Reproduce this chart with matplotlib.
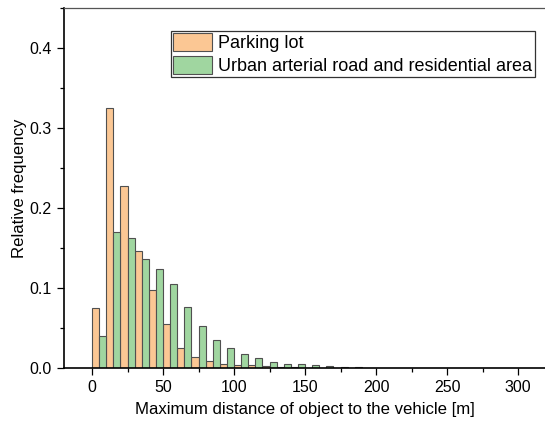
import numpy as np
import matplotlib
matplotlib.use('Agg')
import matplotlib.pyplot as plt
from matplotlib.ticker import MultipleLocator

plt.rcParams['font.family'] = ['Liberation Sans', 'DejaVu Sans']

# left edge of each 10 m bin
bin_start = np.arange(0, 310, 10)

parking = [0.076, 0.326, 0.228, 0.147, 0.098, 0.055, 0.025, 0.0137, 0.009, 0.006,
           0.004, 0.0037, 0.0025, 0.002, 0.0015, 0.001, 0.0008, 0.0006, 0.0005, 0.0004,
           0.0003, 0.0003, 0.0002, 0.0002, 0.0004, 0.0002, 0.0001, 0.0001, 0.0001, 0.0001,
           0.0001]
urban = [0.040, 0.171, 0.163, 0.137, 0.124, 0.105, 0.077, 0.053, 0.036, 0.026,
         0.018, 0.0125, 0.008, 0.006, 0.005, 0.0037, 0.0025, 0.0018, 0.0012, 0.0008,
         0.0007, 0.0006, 0.0006, 0.0005, 0.0005, 0.0005, 0.0004, 0.0004, 0.0004, 0.0004,
         0.0004]

labels = ['Parking lot', 'Urban arterial road and residential area']
colors = ['#FBC794', '#A0D6A0']
edge = '#505050'

fig = plt.figure(figsize=(5.45, 4.21), dpi=100)
ax = fig.add_axes([63.6 / 545, 52.7 / 421, 482.8 / 545, 360 / 421])

ax.bar(bin_start, parking, width=5, align='edge', color=colors[0],
       edgecolor=edge, linewidth=0.8, label=labels[0])
ax.bar(bin_start + 5, urban, width=5, align='edge', color=colors[1],
       edgecolor=edge, linewidth=0.8, label=labels[1])

ax.set_xlim(-20, 320)
ax.set_ylim(0, 0.45)
ax.xaxis.set_major_locator(MultipleLocator(50))
ax.xaxis.set_minor_locator(MultipleLocator(25))
ax.yaxis.set_major_locator(MultipleLocator(0.1))
ax.yaxis.set_minor_locator(MultipleLocator(0.05))
ax.yaxis.set_major_formatter(plt.FuncFormatter(lambda v, p: f'{v:.1f}'))
ax.tick_params(which='major', length=5, width=0.9, labelsize=11.5, direction='out')
ax.tick_params(which='minor', length=3, width=0.9, direction='out')

ax.spines['right'].set_visible(False)
for s in ['left', 'bottom']:
    ax.spines[s].set_linewidth(1.2)
ax.spines['top'].set_linewidth(0.9)
ax.spines['top'].set_color('#555555')

ax.set_xlabel('Maximum distance of object to the vehicle [m]', fontsize=12.1, labelpad=5)
ax.set_ylabel('Relative frequency', fontsize=12.1, labelpad=2)

leg = ax.legend(loc='upper left', bbox_to_anchor=(107 / 482.8, 1 - 22.5 / 360),
                fontsize=13, frameon=True, fancybox=False, framealpha=1,
                handlelength=2.2, handleheight=1.2, handletextpad=0.33,
                borderpad=0.12, labelspacing=0.2, borderaxespad=0)
leg.get_frame().set_edgecolor('#333333')
leg.get_frame().set_linewidth(0.9)

fig.savefig('out.png', dpi=100)
